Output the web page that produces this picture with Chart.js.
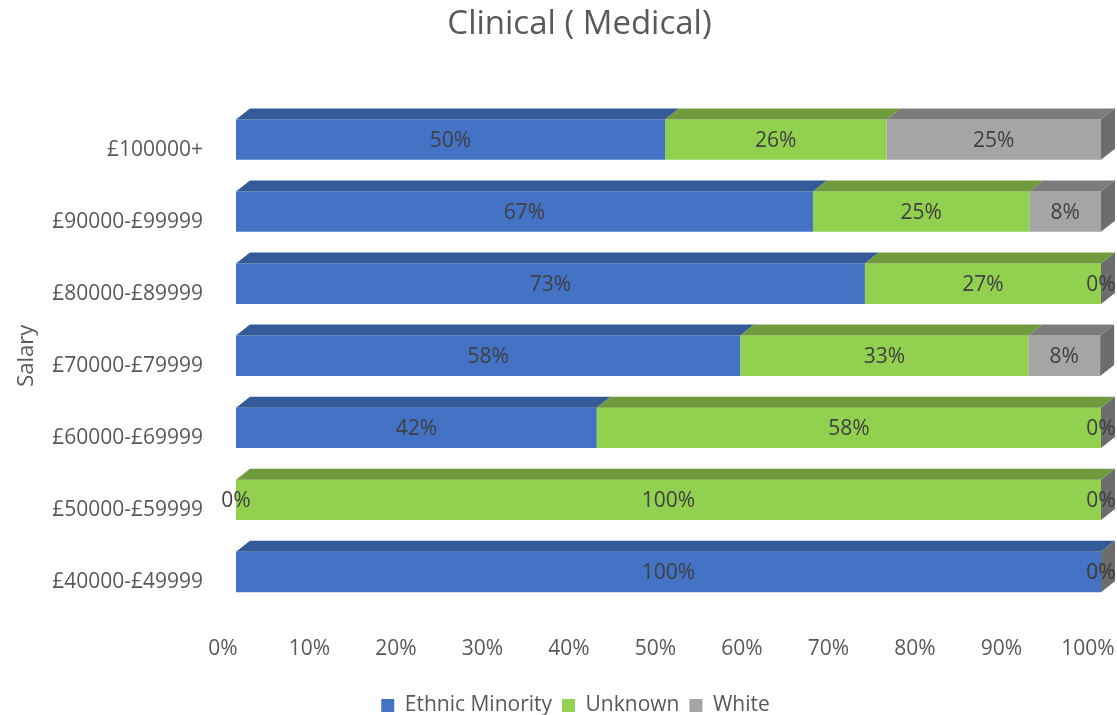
<!DOCTYPE html>
<html>
<head>
<meta charset="utf-8">
<script src="https://cdn.jsdelivr.net/npm/chart.js@4.4.1/dist/chart.umd.min.js"></script>
<style>
  html, body { margin: 0; padding: 0; background: #fff; }
  #wrap { width: 1117px; height: 715px; }
</style>
</head>
<body>
<div id="wrap"><canvas id="chart"></canvas></div>
<script>
// データ（上から下の順）
const salaryBands = ['£100000+', '£90000-£99999', '£80000-£89999', '£70000-£79999', '£60000-£69999', '£50000-£59999', '£40000-£49999'];
const ethnicMinority = [49.6, 66.7, 72.7, 58.3, 41.7, 0, 100];
const unknown = [25.6, 25.0, 27.3, 33.3, 58.3, 100, 0];
const white = [24.8, 8.3, 0, 8.3, 0, 0, 0];
const xTicks = [0, 10, 20, 30, 40, 50, 60, 70, 80, 90, 100];

const FONT = "'Open Sans', 'DejaVu Sans', sans-serif";
const TEXT = '#595959';

// タイトルと凡例を少し右へ寄せる（元の図に合わせる）
const shiftPlugin = {
    id: 'shiftBlocks',
    afterLayout(chart) {
        if (chart.titleBlock) { chart.titleBlock.left += 29; chart.titleBlock.right += 29; }
        if (chart.legend) { chart.legend.left += 25; chart.legend.right += 25; }
    }
};

// 3D風の上面・側面とデータラベルを描くプラグイン
const depthPlugin = {
    id: 'depth3d',
    afterDatasetsDraw(chart) {
        const ctx = chart.ctx;
        const dx = 14, dy = -11;
        const tops = ['#345a97', '#6f9b3d', '#7c7c7c'];
        const side = '#6d6d6d';
        const n = chart.data.labels.length;
        ctx.save();
        for (let i = 0; i < n; i++) {
            let lastBar = null;
            chart.data.datasets.forEach((ds, d) => {
                const bar = chart.getDatasetMeta(d).data[i];
                const top = bar.y - bar.height / 2;
                const x0 = Math.min(bar.base, bar.x), x1 = Math.max(bar.base, bar.x);
                ctx.fillStyle = tops[d];
                ctx.beginPath();
                ctx.moveTo(x0, top);
                ctx.lineTo(x1, top);
                ctx.lineTo(x1 + dx, top + dy);
                ctx.lineTo(x0 + dx, top + dy);
                ctx.closePath();
                ctx.fill();
                lastBar = bar;
            });
            // 右端の側面
            const t = lastBar.y - lastBar.height / 2, b = lastBar.y + lastBar.height / 2;
            const xr = lastBar.x;
            ctx.fillStyle = side;
            ctx.beginPath();
            ctx.moveTo(xr, t);
            ctx.lineTo(xr + dx, t + dy);
            ctx.lineTo(xr + dx, b + dy);
            ctx.lineTo(xr, b);
            ctx.closePath();
            ctx.fill();
        }
        // データラベル
        ctx.font = '21px ' + FONT;
        ctx.fillStyle = '#404040';
        ctx.textAlign = 'center';
        ctx.textBaseline = 'middle';
        chart.data.datasets.forEach((ds, d) => {
            chart.getDatasetMeta(d).data.forEach((bar, i) => {
                const v = ds.data[i];
                ctx.fillText(Math.round(v) + '%', (bar.base + bar.x) / 2, bar.y + 1);
            });
        });
        ctx.restore();
    }
};

const ctx = document.getElementById('chart').getContext('2d');
new Chart(ctx, {
    type: 'bar',
    data: {
        labels: salaryBands,
        datasets: [
            { label: 'Ethnic Minority', data: ethnicMinority, backgroundColor: '#4472c4' },
            { label: 'Unknown', data: unknown, backgroundColor: '#92d050' },
            { label: 'White', data: white, backgroundColor: '#a5a5a5' }
        ]
    },
    options: {
        indexAxis: 'y',
        responsive: true,
        maintainAspectRatio: false,
        animation: false,
        layout: { padding: { left: 0, right: 16, top: 0, bottom: -11 } },
        datasets: { bar: { barPercentage: 1, categoryPercentage: 0.56, borderWidth: 0 } },
        plugins: {
            title: {
                display: true,
                text: 'Clinical ( Medical)',
                color: TEXT,
                font: { family: FONT, size: 33, weight: 'normal' },
                padding: { top: 5, bottom: 59 }
            },
            legend: {
                position: 'bottom',
                labels: {
                    color: TEXT,
                    font: { family: FONT, size: 21 },
                    boxWidth: 13,
                    boxHeight: 13,
                    padding: 10
                }
            },
            tooltip: { enabled: false }
        },
        scales: {
            x: {
                stacked: true,
                min: 0,
                max: 100,
                afterBuildTicks(scale) {
                    scale.ticks = xTicks.map(v => ({ value: v }));
                },
                afterFit(scale) {
                    scale.height = 77;
                    scale.paddingLeft = 0;
                    scale.paddingRight = 0;
                },
                grid: { display: false, drawTicks: false },
                border: { display: false },
                ticks: {
                    color: TEXT,
                    font: { family: FONT, size: 21 },
                    padding: 28,
                    labelOffset: -13,
                    autoSkip: false,
                    maxRotation: 0,
                    callback: v => v + '%'
                }
            },
            y: {
                stacked: true,
                afterFit(scale) {
                    scale.width = 236;
                    scale.paddingTop = 0;
                    scale.paddingBottom = 0;
                },
                grid: { display: false, drawTicks: false },
                border: { display: false },
                ticks: {
                    color: TEXT,
                    font: { family: FONT, size: 21 },
                    padding: 33,
                    labelOffset: 10
                },
                title: {
                    display: true,
                    text: 'Salary',
                    color: TEXT,
                    font: { family: FONT, size: 22 },
                    padding: { top: 14, bottom: 0 }
                }
            }
        }
    },
    plugins: [depthPlugin, shiftPlugin]
});
</script>
</body>
</html>
